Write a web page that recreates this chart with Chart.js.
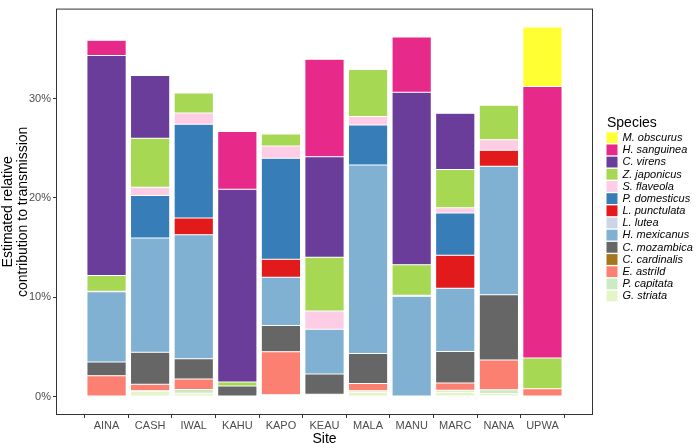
<!DOCTYPE html>
<html>
<head>
<meta charset="utf-8">
<script src="https://cdn.jsdelivr.net/npm/chart.js@4.4.0/dist/chart.umd.min.js"></script>
<style>
  html, body { margin: 0; padding: 0; background: #fff; }
  #wrap { width: 698px; height: 443px; }
</style>
</head>
<body>
<div id="wrap"><canvas id="chart"></canvas></div>
<script>
// sites along the x axis
const sites = ['AINA', 'CASH', 'IWAL', 'KAHU', 'KAPO', 'KEAU', 'MALA', 'MANU', 'MARC', 'NANA', 'UPWA'];
const yTicks = [0, 10, 20, 30];

// % contribution per site, one array per species (bottom of stack first)
const gStriata     = [0, 0.52, 0.33, 0, 0.13, 0.10, 0.42, 0, 0.42, 0.30, 0];
const pCapitata    = [0, 0.05, 0.39, 0, 0.04, 0.12, 0.15, 0, 0.20, 0.39, 0];
const eAstrild     = [2.10, 0.66, 1.04, 0, 4.34, 0, 0.74, 0, 0.74, 2.99, 0.79];
const cCardinalis  = [0, 0, 0, 0, 0, 0, 0, 0, 0, 0, 0];
const cMozambica   = [1.38, 3.22, 2.05, 1.05, 2.64, 2.05, 3.03, 0, 3.18, 6.58, 0];
const hMexicanus   = [7.08, 11.52, 12.48, 0, 4.87, 4.50, 18.98, 10.10, 6.35, 12.93, 0];
const lLutea       = [0.05, 0, 0, 0, 0, 0, 0, 0.10, 0, 0, 0];
const lPunctulata  = [0, 0, 1.68, 0, 1.81, 0, 0, 0, 3.33, 1.61, 0];
const pDomesticus  = [0, 4.27, 9.44, 0, 10.17, 0, 4.02, 0, 4.27, 0, 0];
const sFlaveola    = [0, 0.83, 1.13, 0, 1.22, 1.85, 0.85, 0, 0.52, 1.06, 0];
const zJaponicus   = [1.58, 4.94, 2.03, 0.41, 1.21, 5.40, 4.74, 3.06, 3.85, 3.48, 3.09];
const cVirens      = [22.14, 6.32, 0, 19.40, 0, 10.13, 0, 17.37, 5.67, 0, 0];
const hSanguinea   = [1.55, 0, 0, 5.82, 0, 9.81, 0, 5.57, 0, 0, 27.34];
const mObscurus    = [0, 0, 0, 0, 0, 0, 0, 0, 0, 0, 5.99];

const speciesNames = ['G. striata', 'P. capitata', 'E. astrild', 'C. cardinalis', 'C. mozambica',
  'H. mexicanus', 'L. lutea', 'L. punctulata', 'P. domesticus', 'S. flaveola',
  'Z. japonicus', 'C. virens', 'H. sanguinea', 'M. obscurus'];
const speciesValues = [gStriata, pCapitata, eAstrild, cCardinalis, cMozambica,
  hMexicanus, lLutea, lPunctulata, pDomesticus, sFlaveola,
  zJaponicus, cVirens, hSanguinea, mObscurus];
const speciesColors = ['#e6f5c9', '#ccebc5', '#fb8072', '#a6761d', '#666666',
  '#80b1d3', '#cbd5e8', '#e31a1c', '#377eb8', '#fccde5',
  '#a6d854', '#6a3d9a', '#e7298a', '#ffff33'];

const FONT = '"Liberation Sans", Arial, Helvetica, sans-serif';

// legend on the right + panel border, drawn by hand so it sits like ggplot's
const speciesLegend = {
  id: 'speciesLegend',
  afterDraw(chart) {
    const ctx = chart.ctx;
    const a = chart.chartArea;
    ctx.save();
    ctx.strokeStyle = '#333333';
    ctx.lineWidth = 1;
    ctx.strokeRect(a.left + 0.5, a.top + 0.5, a.right - a.left - 1, a.bottom - a.top - 1);

    ctx.fillStyle = '#000';
    ctx.font = '14px ' + FONT;
    ctx.textBaseline = 'alphabetic';
    ctx.textAlign = 'left';
    ctx.fillText('Species', 607, 127);

    const items = chart.data.datasets.slice().reverse();
    items.forEach((ds, i) => {
      const y = 132.3 + i * 12.18;
      ctx.fillStyle = ds.backgroundColor;
      ctx.fillRect(606.5, y, 11, 10.8);
      ctx.fillStyle = '#000';
      ctx.font = 'italic 11px ' + FONT;
      ctx.textBaseline = 'middle';
      ctx.fillText(ds.label, 622.5, y + 5.6);
    });
    ctx.restore();
  }
};

const datasets = speciesNames.map((name, k) => ({
  label: name,
  data: speciesValues[k].map((v, i) => ({ x: i, y: v })).filter(p => p.y > 0),
  backgroundColor: speciesColors[k],
  borderColor: '#ffffff',
  borderWidth: 0.5,
  borderSkipped: false,
  barPercentage: 0.9,
  categoryPercentage: 1
}));

const ctx = document.getElementById('chart').getContext('2d');
new Chart(ctx, {
  type: 'bar',
  data: { datasets: datasets },
  options: {
    responsive: true,
    maintainAspectRatio: false,
    devicePixelRatio: 1,
    animation: false,
    layout: { padding: { top: 0, right: 105, bottom: 0, left: 0 } },
    plugins: {
      legend: { display: false },
      tooltip: { enabled: false }
    },
    scales: {
      x: {
        type: 'linear',
        stacked: true,
        min: -0.6,
        max: sites.length - 0.4,
        afterBuildTicks: scale => { scale.ticks = sites.map((s, i) => ({ value: i })); },
        afterFit: scale => { scale.height = 28; },
        ticks: {
          callback: v => sites[v],
          color: '#4d4d4d',
          font: { size: 11, family: FONT },
          padding: 1,
          autoSkip: false,
          maxRotation: 0
        },
        grid: { drawOnChartArea: false, tickLength: 3, color: '#333333' },
        border: { display: false },
        title: {
          display: true, text: 'Site', color: '#000',
          font: { size: 14, family: FONT, lineHeight: 1 },
          padding: { top: 0, bottom: -3 }
        }
      },
      y: {
        stacked: true,
        min: -1.86,
        max: 39.06,
        afterBuildTicks: scale => { scale.ticks = yTicks.map(v => ({ value: v })); },
        afterFit: scale => { scale.width = 56; },
        ticks: {
          callback: v => v + '%',
          color: '#4d4d4d',
          font: { size: 11, family: FONT },
          padding: 2
        },
        grid: { drawOnChartArea: false, tickLength: 3, color: '#333333' },
        border: { display: false },
        title: {
          display: true,
          text: ['Estimated relative', 'contribution to transmission'],
          color: '#000',
          font: { size: 14, family: FONT, lineHeight: 1.1 },
          padding: 0
        }
      }
    }
  },
  plugins: [speciesLegend]
});
</script>
</body>
</html>
